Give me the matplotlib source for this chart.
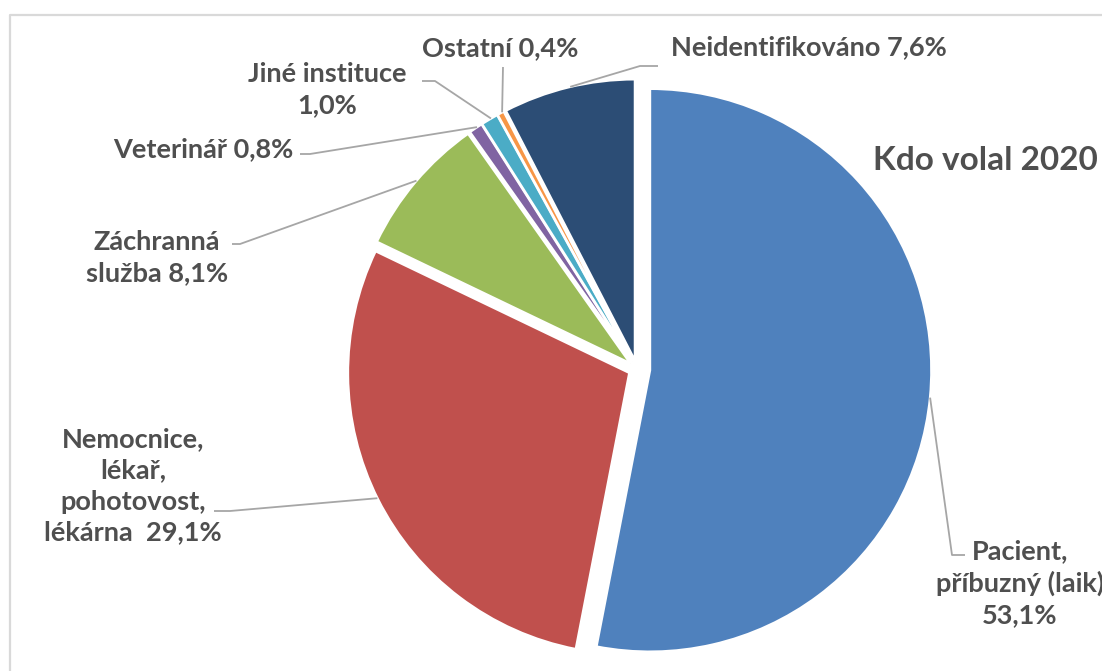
import numpy as np
import matplotlib.pyplot as plt

# data
labels = ["Pacient,\npříbuzný (laik)\n53,1%",
          "Nemocnice,\nlékař,\npohotovost,\nlékárna  29,1%",
          "Záchranná\nslužba 8,1%",
          "Veterinář 0,8%",
          "Jiné instituce\n1,0%",
          "Ostatní 0,4%",
          "Neidentifikováno 7,6%"]
values = [53.1, 29.1, 8.1, 0.8, 1.0, 0.4, 7.6]
colors = ["#4F81BD", "#C0504D", "#9BBB59", "#8064A2", "#4BACC6", "#F79646", "#2C4D75"]
title = "Kdo volal 2020"

W, H = 1102, 671
cx, cy, R = 637, 369, 281.5          # pixel geometry of the pie (y from top)
shift = [13, 8.5, 8.5, 8.5, 8.5, 8.5, 8.5]

# label layout: text centre, elbow points of the leader (pixels, y from top)
text_pos = [(1020, 583), (133, 486), (157, 258), (203, 149), (327, 90), (500, 48), (809, 47)]
elbows = [[(952, 555), (965, 555)],
          [(230, 511), (214, 511)],
          [(240, 244), (232, 244)],
          [(310, 154), (300, 154)],
          [(435, 81), (422, 81)],
          [(503, 67)],
          [(640, 66), (658, 66)]]

def Y(y):
    return H - y

plt.rcParams['font.family'] = ['Lato', 'DejaVu Sans']
txt = "#4F4F4F"

fig = plt.figure(figsize=(W / 100, H / 100), dpi=100)
ax = fig.add_axes([0, 0, 1, 1])

# explode is in data units here (pixels)
ax.pie(values, colors=colors, startangle=90, counterclock=False,
       explode=shift, radius=R, center=(cx, Y(cy)),
       wedgeprops=dict(edgecolor="white", linewidth=1.8))

ax.set_xlim(0, W)
ax.set_ylim(0, H)
ax.set_aspect("equal")
ax.axis("off")

# leader lines start at the middle of each slice's arc
start = 90.0
for i, v in enumerate(values):
    ang = np.deg2rad(start - v * 3.6 / 2)
    start -= v * 3.6
    d = shift[i] + R
    ax0 = cx + d * np.cos(ang)
    ay0 = cy - d * np.sin(ang)
    xs = [ax0] + [p[0] for p in elbows[i]]
    ys = [Y(ay0)] + [Y(p[1]) for p in elbows[i]]
    ax.plot(xs, ys, color="#A6A6A6", lw=1.3, solid_capstyle="butt")
    tx, ty = text_pos[i]
    ax.text(tx, Y(ty), labels[i], ha="center", va="center", fontsize=19.5,
            fontweight="bold", color=txt, linespacing=1.35)

ax.text(873, Y(160), title, ha="left", va="center", fontsize=24,
        fontweight="bold", color=txt)

# chart frame
ax.plot([9.5, 9.5, W], [0, Y(14.5), Y(14.5)], color="#D9D9D9", lw=1.6)

fig.savefig("out.png", dpi=100)
